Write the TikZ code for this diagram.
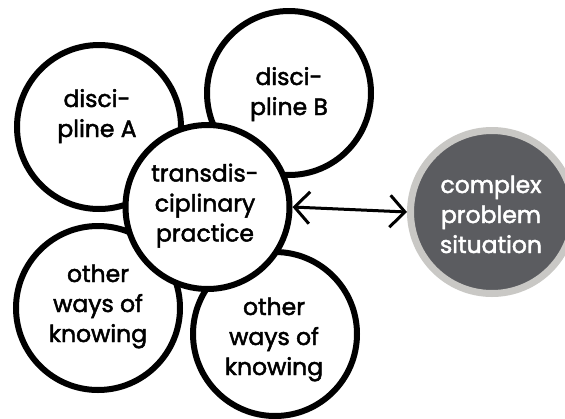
\documentclass[tikz,border=0pt]{standalone}
\usepackage{fontspec}
\setmainfont{Poppins}[FakeBold=2]
\usetikzlibrary{arrows.meta}
\definecolor{ringgray}{HTML}{C9C8C5}
\definecolor{darkfill}{HTML}{5B5C60}
\tikzset{
  ring/.style={circle, draw=black, fill=white, line width=6pt, inner sep=0pt, minimum size=164pt},
  darkring/.style={circle, draw=ringgray, fill=darkfill, line width=7pt, inner sep=0pt, minimum size=163pt},
  lbl/.style={anchor=base, align=center, inner sep=0pt, font=\fontsize{23.5}{30}\selectfont},
  link/.style={line width=3pt, {Straight Barb[length=15pt,width=32pt]}-{Straight Barb[length=15pt,width=32pt]}}
}
\begin{document}
\begin{tikzpicture}[x=1pt,y=-1pt]
\useasboundingbox (0,0) rectangle (565,418);
\node[ring] (A) at (99,127) {};
\node[ring] (B) at (289,93) {};
\node[ring] (O1) at (98,308) {};
\node[ring] (O2) at (275,334) {};
\node[ring] (C) at (207.5,207) {};
\node[darkring] (X) at (492,212) {};
\node[lbl] (tA) at (97,137) {disci-\\pline A};
\node[lbl] (tB) at (289,115) {disci-\\pline B};
\node[lbl] (tC) at (205,241.5) {transdis-\\ciplinary\\practice};
\node[lbl] (tO1) at (98,342) {other\\ways of\\knowing};
\node[lbl] (tO2) at (274,375) {other\\ways of\\knowing};
\node[lbl, text=white] (tX) at (491,253) {complex\\problem\\situation};
\draw[link] (C.east) -- (X.west);
\end{tikzpicture}
\end{document}
